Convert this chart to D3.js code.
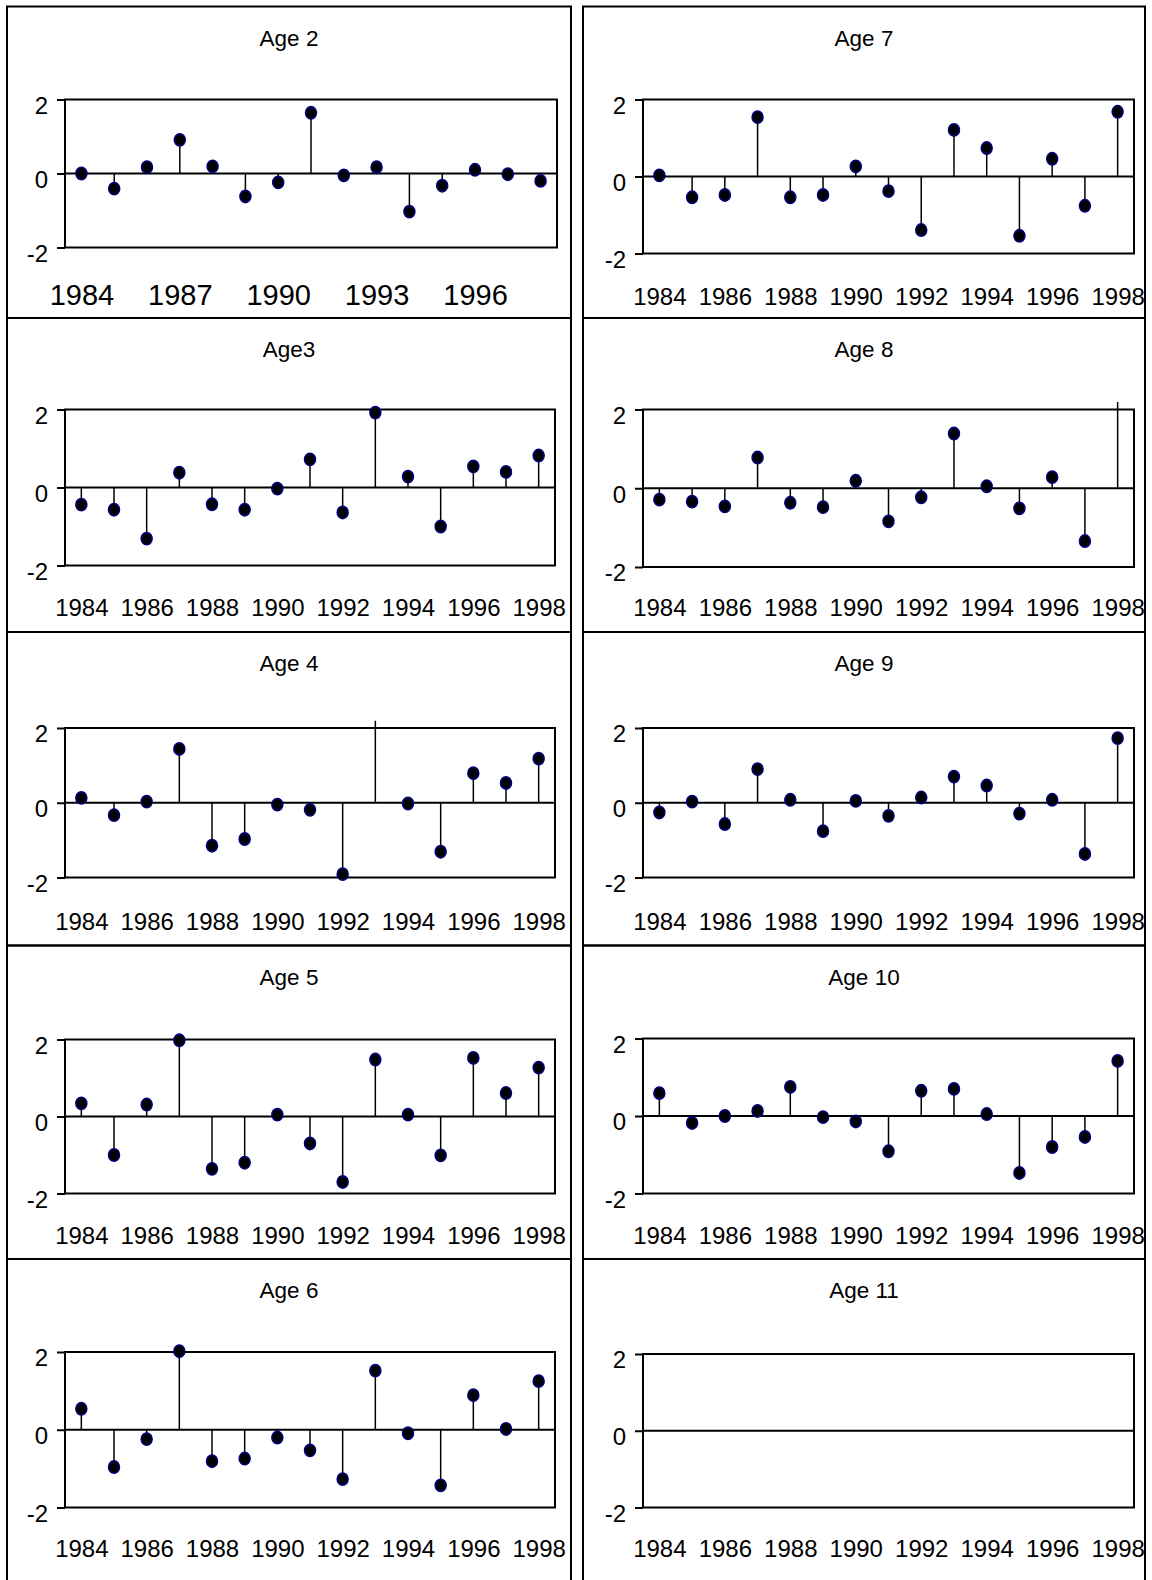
<!DOCTYPE html>
<html>
<head>
<meta charset="utf-8">
<script src="https://cdn.jsdelivr.net/npm/d3@7"></script>
<style>
  html, body { margin: 0; padding: 0; background: #ffffff; }
  svg { display: block; }
  text { font-family: "Liberation Sans", Arial, sans-serif; fill: #000; }
</style>
</head>
<body>
<svg id="chart" width="1152" height="1580"></svg>
<script>
// ---- data ----
const years = [1984, 1985, 1986, 1987, 1988, 1989, 1990, 1991, 1992, 1993, 1994, 1995, 1996, 1997, 1998];
const yTicks = [-2, 0, 2];
const xTicksAge2 = [1984, 1987, 1990, 1993, 1996];
const xTicksOther = [1984, 1986, 1988, 1990, 1992, 1994, 1996, 1998];
const titles = ["Age 2", "Age3", "Age 4", "Age 5", "Age 6", "Age 7", "Age 8", "Age 9", "Age 10", "Age 11"];

const age2  = [0.00, -0.41, 0.17, 0.91, 0.19, -0.62, -0.24, 1.64, -0.05, 0.17, -1.03, -0.33, 0.10, -0.02, -0.20];
const age3  = [-0.44, -0.57, -1.31, 0.38, -0.43, -0.57, -0.03, 0.72, -0.64, 1.92, 0.28, -1.00, 0.54, 0.40, 0.82];
const age4  = [0.13, -0.33, 0.03, 1.44, -1.15, -0.97, -0.05, -0.19, -1.91, 2.2, -0.02, -1.31, 0.79, 0.53, 1.18];
const age5  = [0.34, -1.00, 0.31, 1.98, -1.36, -1.20, 0.05, -0.70, -1.70, 1.48, 0.05, -1.01, 1.52, 0.61, 1.27];
const age6  = [0.54, -0.96, -0.24, 2.02, -0.81, -0.74, -0.20, -0.53, -1.27, 1.52, -0.09, -1.43, 0.89, 0.02, 1.25];
const age7  = [0.03, -0.54, -0.48, 1.54, -0.54, -0.48, 0.26, -0.38, -1.39, 1.21, 0.74, -1.54, 0.46, -0.76, 1.68];
const age8  = [-0.29, -0.34, -0.46, 0.78, -0.37, -0.48, 0.19, -0.84, -0.23, 1.39, 0.05, -0.51, 0.28, -1.34, 2.2];
const age9  = [-0.26, 0.03, -0.57, 0.90, 0.08, -0.76, 0.05, -0.35, 0.14, 0.70, 0.46, -0.29, 0.08, -1.37, 1.73];
const age10 = [0.59, -0.18, 0.00, 0.13, 0.75, -0.03, -0.14, -0.91, 0.65, 0.70, 0.05, -1.47, -0.80, -0.54, 1.42];
const age11 = [];

const series = [age2, age3, age4, age5, age6, age7, age8, age9, age10, age11];

// ---- layout ----
const rowTops = [6.5, 318, 632, 945.5, 1259, 1584];
const colBox = [[7, 571], [583, 1145]];
const plotX = [[65, 555], [643, 1134]];
// per panel plot top/bottom offsets from the row top
const plotYOff = [
  [93, 241], [91.5, 247.5], [96, 245.5], [94, 248], [93, 248.5],
  [93, 247], [91.5, 249], [96, 245.5], [93, 248], [95, 248.5]
];

const svg = d3.select("#chart");
svg.append("rect").attr("width", 1152).attr("height", 1580).attr("fill", "#fff");

// panel frames
for (let c = 0; c < 2; c++) {
  for (let r = 0; r < 5; r++) {
    svg.append("rect")
      .attr("x", colBox[c][0]).attr("y", rowTops[r])
      .attr("width", colBox[c][1] - colBox[c][0])
      .attr("height", rowTops[r + 1] - rowTops[r])
      .attr("fill", "none").attr("stroke", "#000").attr("stroke-width", 2);
  }
}

series.forEach((vals, i) => {
  const c = i < 5 ? 0 : 1;
  const r = i % 5;
  const top = rowTops[r];
  const isAge2 = i === 0;
  const x0 = plotX[c][0];
  const x1 = isAge2 ? 557 : plotX[c][1];
  const y0 = top + plotYOff[i][0];
  const y1 = top + plotYOff[i][1];

  const x = d3.scalePoint().domain(years).range([x0, x1]).padding(0.5);
  const y = d3.scaleLinear().domain([-2, 2]).range([y1, y0]);

  const g = svg.append("g");

  // title
  g.append("text")
    .attr("x", (colBox[c][0] + colBox[c][1]) / 2)
    .attr("y", top + 39)
    .attr("text-anchor", "middle")
    .style("font-size", "22.5px")
    .text(titles[i]);

  // y axis
  const ya = g.append("g").attr("transform", `translate(${x0},0)`)
    .call(d3.axisLeft(y).tickValues(yTicks).tickSize(8).tickPadding(9).tickFormat(d => String(d)));
  ya.select(".domain").remove();
  ya.selectAll("line").attr("stroke", "#000").attr("stroke-width", 2);
  ya.selectAll("text").attr("dy", "0.58em").style("font-size", "24px")
    .style("font-family", "Liberation Sans, Arial, sans-serif");

  // x axis labels
  const xa = g.append("g").attr("transform", `translate(0,${top + 298})`)
    .call(d3.axisBottom(x).tickValues(isAge2 ? xTicksAge2 : xTicksOther).tickSize(0).tickPadding(0));
  xa.select(".domain").remove();
  xa.selectAll("line").remove();
  xa.selectAll("text").attr("y", 0).attr("dy", 0)
    .style("font-size", isAge2 ? "29px" : "24px")
    .style("font-family", "Liberation Sans, Arial, sans-serif");

  // plot box
  g.append("rect")
    .attr("x", x0).attr("y", y0).attr("width", x1 - x0).attr("height", y1 - y0)
    .attr("fill", "none").attr("stroke", "#000").attr("stroke-width", 2);

  // zero line
  g.append("line")
    .attr("x1", x0).attr("x2", x1).attr("y1", y(0)).attr("y2", y(0))
    .attr("stroke", "#000").attr("stroke-width", 2);

  const pts = vals.map((v, k) => ({ year: years[k], v }));

  // clip for stems (slightly beyond plot area)
  const clipId = "clip" + i;
  g.append("clipPath").attr("id", clipId).append("rect")
    .attr("x", x0 - 20).attr("y", y0 - 7.5).attr("width", x1 - x0 + 40).attr("height", y1 - y0 + 15);

  g.append("g").attr("clip-path", `url(#${clipId})`)
    .selectAll("line").data(pts).join("line")
    .attr("x1", d => x(d.year)).attr("x2", d => x(d.year))
    .attr("y1", y(0)).attr("y2", d => y(d.v))
    .attr("stroke", "#000").attr("stroke-width", 1.5);

  g.append("g").selectAll("ellipse").data(pts.filter(d => Math.abs(d.v) <= 2.05)).join("ellipse")
    .attr("cx", d => x(d.year)).attr("cy", d => y(d.v))
    .attr("rx", 5.5).attr("ry", 6.2)
    .attr("fill", "#000").attr("stroke", "#000080").attr("stroke-width", 1.5);
});
</script>
</body>
</html>
